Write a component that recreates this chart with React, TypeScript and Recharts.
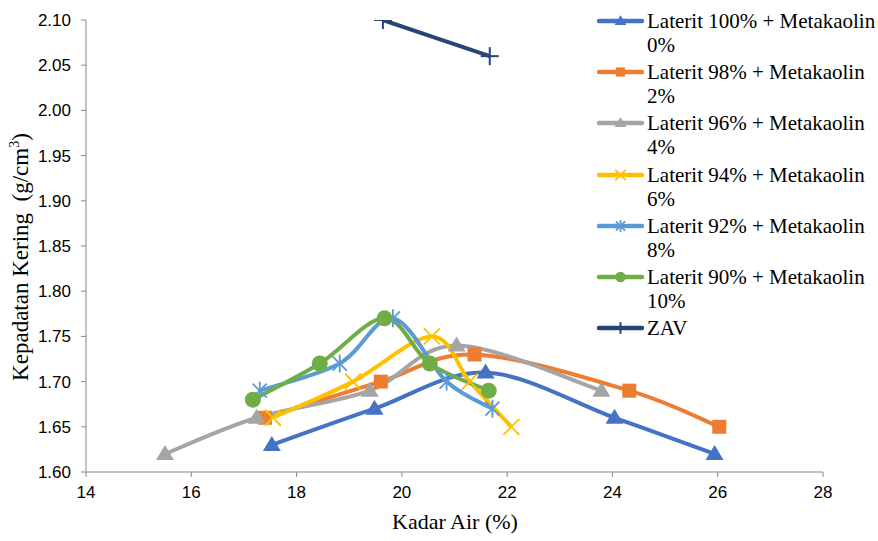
import { LineChart, Line, XAxis, YAxis, Label } from "recharts";

// Kadar air (%) and kepadatan kering (g/cm3) per campuran
const lat100X = [17.53, 19.48, 21.59, 24.04, 25.94];
const lat100Y = [1.63, 1.67, 1.71, 1.66, 1.62];
const lat98X = [17.4, 19.6, 21.38, 24.32, 26.03];
const lat98Y = [1.66, 1.7, 1.73, 1.69, 1.65];
const lat96X = [15.5, 17.24, 19.39, 21.04, 23.79];
const lat96Y = [1.62, 1.66, 1.69, 1.74, 1.69];
const lat94X = [17.55, 19.07, 20.57, 21.29, 22.08];
const lat94Y = [1.66, 1.7, 1.75, 1.7, 1.65];
const lat92X = [17.3, 18.82, 19.83, 20.85, 21.72];
const lat92Y = [1.69, 1.72, 1.77, 1.7, 1.67];
const lat90X = [17.17, 18.44, 19.67, 20.53, 21.65];
const lat90Y = [1.68, 1.72, 1.77, 1.72, 1.69];
const zavX = [19.64, 21.67];
const zavY = [2.1, 2.06];

const xTicks = [14, 16, 18, 20, 22, 24, 26, 28];
const yTicks = [1.6, 1.65, 1.7, 1.75, 1.8, 1.85, 1.9, 1.95, 2.0, 2.05, 2.1];

type Marker = "triangle" | "square" | "x" | "star" | "circle" | "plus";

const toPoints = (xs: number[], ys: number[]) => xs.map((x, i) => ({ x, y: ys[i] }));

const series = [
  { name: "Laterit 100% + Metakaolin", pct: "0%", color: "#4472C4", marker: "triangle" as Marker, data: toPoints(lat100X, lat100Y) },
  { name: "Laterit 98% + Metakaolin", pct: "2%", color: "#ED7D31", marker: "square" as Marker, data: toPoints(lat98X, lat98Y) },
  { name: "Laterit 96% + Metakaolin", pct: "4%", color: "#A5A5A5", marker: "triangle" as Marker, data: toPoints(lat96X, lat96Y) },
  { name: "Laterit 94% + Metakaolin", pct: "6%", color: "#FFC000", marker: "x" as Marker, data: toPoints(lat94X, lat94Y) },
  { name: "Laterit 92% + Metakaolin", pct: "8%", color: "#5B9BD5", marker: "star" as Marker, data: toPoints(lat92X, lat92Y) },
  { name: "Laterit 90% + Metakaolin", pct: "10%", color: "#70AD47", marker: "circle" as Marker, data: toPoints(lat90X, lat90Y) },
  { name: "ZAV", pct: "", color: "#264478", marker: "plus" as Marker, data: toPoints(zavX, zavY) },
];

// excel-like smoothed line (catmull-rom through the points)
function smoothCurve(context: any) {
  let pts: number[][] = [];
  return {
    areaStart() {},
    areaEnd() {},
    lineStart() {
      pts = [];
    },
    point(x: number, y: number) {
      pts.push([+x, +y]);
    },
    lineEnd() {
      if (!pts.length) return;
      context.moveTo(pts[0][0], pts[0][1]);
      for (let i = 0; i < pts.length - 1; i++) {
        const p0 = pts[i - 1] || pts[i];
        const p1 = pts[i];
        const p2 = pts[i + 1];
        const p3 = pts[i + 2] || p2;
        context.bezierCurveTo(
          p1[0] + (p2[0] - p0[0]) / 6,
          p1[1] + (p2[1] - p0[1]) / 6,
          p2[0] - (p3[0] - p1[0]) / 6,
          p2[1] - (p3[1] - p1[1]) / 6,
          p2[0],
          p2[1]
        );
      }
    },
  };
}

function MarkerShape({ cx, cy, kind, color, s = 1 }: { cx: number; cy: number; kind: Marker; color: string; s?: number }) {
  switch (kind) {
    case "triangle":
      return <polygon points={`${cx},${cy - 9 * s} ${cx - 9 * s},${cy + 6 * s} ${cx + 9 * s},${cy + 6 * s}`} fill={color} />;
    case "square":
      return <rect x={cx - 7 * s} y={cy - 7 * s} width={14 * s} height={14 * s} fill={color} />;
    case "circle":
      return <circle cx={cx} cy={cy} r={8 * s} fill={color} />;
    case "x":
      return (
        <g stroke={color} strokeWidth={1.8}>
          <line x1={cx - 8 * s} y1={cy - 8 * s} x2={cx + 8 * s} y2={cy + 8 * s} />
          <line x1={cx - 8 * s} y1={cy + 8 * s} x2={cx + 8 * s} y2={cy - 8 * s} />
        </g>
      );
    case "star":
      return (
        <g stroke={color} strokeWidth={1.8}>
          <line x1={cx - 7 * s} y1={cy - 7 * s} x2={cx + 7 * s} y2={cy + 7 * s} />
          <line x1={cx - 7 * s} y1={cy + 7 * s} x2={cx + 7 * s} y2={cy - 7 * s} />
          <line x1={cx} y1={cy - 9 * s} x2={cx} y2={cy + 9 * s} />
        </g>
      );
    default:
      return (
        <g stroke={color} strokeWidth={2}>
          <line x1={cx - 9 * s} y1={cy} x2={cx + 9 * s} y2={cy} />
          <line x1={cx} y1={cy - 9 * s} x2={cx} y2={cy + 9 * s} />
        </g>
      );
  }
}

const axisColor = "#868686";
const tickStyle = { fontSize: 17, fill: "#000", fontFamily: "Liberation Sans, Arial, sans-serif" };
const serif = "Liberation Serif, 'Times New Roman', serif";

function ChartLegend() {
  return (
    <div style={{ position: "absolute", left: 597, top: 9, fontFamily: serif, fontSize: 21, color: "#000" }}>
      {series.map((s, i) => (
        <div key={s.name} style={{ position: "absolute", top: i * 51.2, left: 0, width: 280, lineHeight: "24px" }}>
          <svg width={47} height={24} style={{ position: "absolute", left: 0, top: 0 }}>
            <line x1={2} y1={12} x2={45} y2={12} stroke={s.color} strokeWidth={4.5} strokeLinecap="round" />
            <MarkerShape cx={23.5} cy={12} kind={s.marker} color={s.color} s={0.65} />
          </svg>
          <div style={{ marginLeft: 50, whiteSpace: "nowrap" }}>{s.name}</div>
          {s.pct && <div style={{ marginLeft: 50 }}>{s.pct}</div>}
        </div>
      ))}
    </div>
  );
}

export default function App() {
  return (
    <div style={{ position: "absolute", left: 0, top: 0, width: 878, height: 541, background: "#fff" }}>
      <LineChart width={878} height={541} margin={{ top: 20, right: 55, bottom: 0, left: 0 }}>
        <XAxis
          type="number"
          dataKey="x"
          domain={[14, 28]}
          ticks={xTicks}
          allowDataOverflow
          height={69}
          tick={tickStyle}
          tickSize={5}
          tickMargin={9}
          axisLine={{ stroke: axisColor }}
          tickLine={{ stroke: axisColor }}
        >
          <Label
            content={() => (
              <text x={455} y={529} textAnchor="middle" fontFamily={serif} fontSize={22} fill="#000">
                Kadar Air (%)
              </text>
            )}
          />
        </XAxis>
        <YAxis
          type="number"
          dataKey="y"
          domain={[1.6, 2.1]}
          ticks={yTicks}
          allowDataOverflow
          width={86}
          tick={tickStyle}
          tickSize={5}
          tickMargin={10}
          tickFormatter={(v: number) => v.toFixed(2)}
          axisLine={{ stroke: axisColor }}
          tickLine={{ stroke: axisColor }}
        >
          <Label
            content={() => (
              <text
                x={28}
                y={257}
                transform="rotate(-90, 28, 257)"
                textAnchor="middle"
                fontFamily={serif}
                fontSize={23}
                fill="#000"
                style={{ whiteSpace: "pre" }}
              >
                {"Kepadatan Kering  (g/cm"}
                <tspan fontSize={14} dy={-9}>3</tspan>
                <tspan dy={9}>)</tspan>
              </text>
            )}
          />
        </YAxis>
        {series.map((s) => (
          <Line
            key={s.name}
            data={s.data}
            dataKey="y"
            name={s.name}
            type={smoothCurve as any}
            stroke={s.color}
            strokeWidth={4}
            isAnimationActive={false}
            dot={(p: any) => <MarkerShape key={`${s.name}-${p.index}`} cx={p.cx} cy={p.cy} kind={s.marker} color={s.color} />}
            activeDot={false}
          />
        ))}
      </LineChart>
      <ChartLegend />
    </div>
  );
}
